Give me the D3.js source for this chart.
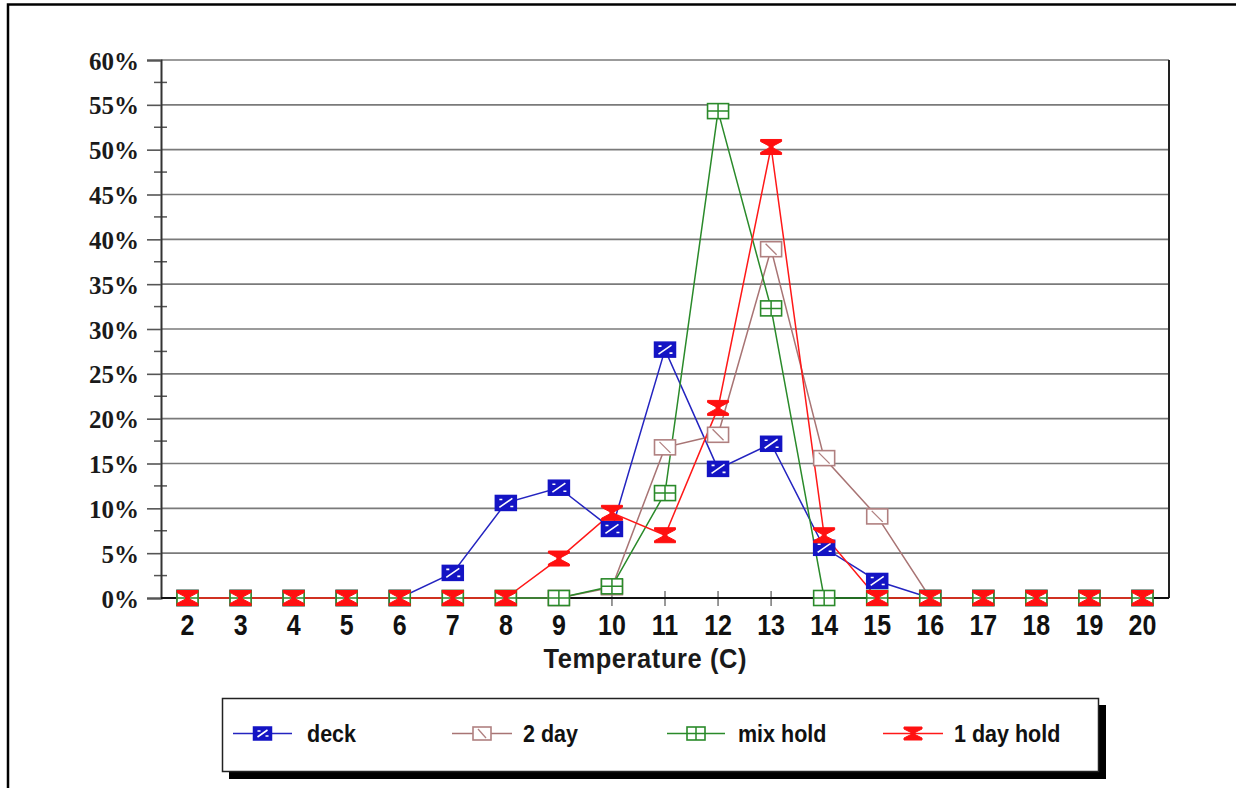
<!DOCTYPE html>
<html><head><meta charset="utf-8">
<script src="https://cdn.jsdelivr.net/npm/d3@7"></script>
<style>html,body{margin:0;padding:0;background:#fff;overflow:hidden;}svg{display:block;}</style>
</head><body>
<script>
const temps = [2,3,4,5,6,7,8,9,10,11,12,13,14,15,16,17,18,19,20];
const deck    = [0,0,0,0,0,2.8,10.6,12.3,7.7,27.7,14.4,17.2,5.6,1.9,0,0,0,0,0];
const twoDay  = [0,0,0,0,0,0,0,0,1.2,16.8,18.2,38.9,15.6,9.1,0,0,0,0,0];
const mixHold = [0,0,0,0,0,0,0,0,1.3,11.7,54.3,32.3,0,0,0,0,0,0,0];
const oneDay  = [0,0,0,0,0,0,0,4.4,9.5,7.0,21.2,50.3,7.0,0,0,0,0,0,0];
const seriesNames = ["deck","2 day","mix hold","1 day hold"];
const yTicks = [0,5,10,15,20,25,30,35,40,45,50,55,60];
const xTitle = "Temperature (C)";

const W=1236,H=788;
const svg=d3.select("body").append("svg").attr("width",W).attr("height",H);
// outer frame
svg.append("rect").attr("x",8).attr("y",4.5).attr("width",1260).attr("height",820)
  .attr("fill","none").attr("stroke","#000").attr("stroke-width",2.5);

const L=161,R=1169,T=60,B=598;
const x=d3.scalePoint().domain(temps).range([L,R]).padding(0.5);
const y=d3.scaleLinear().domain([0,60]).range([B,T]);

// gridlines
svg.append("g").selectAll("line").data(yTicks.filter(d=>d>0)).join("line")
  .attr("x1",L).attr("x2",R).attr("y1",d=>y(d)).attr("y2",d=>y(d))
  .attr("stroke","#7a7a7a").attr("stroke-width",1.6);
// minor ticks
const minor=d3.range(2.5,60,5);
svg.append("g").selectAll("line").data(minor).join("line")
  .attr("x1",L-7).attr("x2",L+6).attr("y1",d=>y(d)).attr("y2",d=>y(d))
  .attr("stroke","#555").attr("stroke-width",1.5);
// y axis via d3
const yAxis=d3.axisLeft(y).tickValues(yTicks).tickSize(14).tickFormat(d=>d+"%");
const gy=svg.append("g").attr("transform",`translate(${L},0)`).call(yAxis);
gy.select(".domain").attr("stroke","#333").attr("stroke-width",2);
gy.selectAll(".tick line").attr("stroke","#555").attr("stroke-width",1.6);
gy.selectAll(".tick text").attr("font-family","'Liberation Serif',serif").attr("font-weight","bold")
  .attr("font-size",25).attr("fill","#1a1a1a").attr("x",-22).attr("dy","0.36em");

// x ticks (crossing axis)
svg.append("g").selectAll("line").data(temps).join("line")
  .attr("x1",d=>x(d)).attr("x2",d=>x(d)).attr("y1",B-7).attr("y2",B+8)
  .attr("stroke","#777").attr("stroke-width",1.5);
// right border
svg.append("line").attr("x1",R).attr("x2",R).attr("y1",T).attr("y2",B).attr("stroke","#222").attr("stroke-width",2);
// bottom axis
svg.append("line").attr("x1",L).attr("x2",R).attr("y1",B).attr("y2",B).attr("stroke","#111").attr("stroke-width",2);

// x labels
svg.append("g").selectAll("g").data(temps).join("g")
  .attr("transform",d=>`translate(${x(d)},635) scale(1,1.15)`)
  .append("text").attr("text-anchor","middle")
  .attr("font-family","'Liberation Sans',Arial,sans-serif").attr("font-weight","bold")
  .attr("font-size",25).attr("fill","#111").text(d=>d);
svg.append("g").attr("transform","translate(645,668) scale(1,1.08)")
  .append("text").attr("text-anchor","middle")
  .attr("font-family","'Liberation Sans',Arial,sans-serif").attr("font-weight","bold")
  .attr("font-size",25.5).attr("fill","#1a1a1a").attr("textLength",203).attr("lengthAdjust","spacing")
  .text(xTitle);

// marker drawers
const colors={deck:"#1a1ac8",twoDay:"#b08080",mix:"#2a8a2a",one:"#ff1010"};
function mDeck(g,w,h){
  g.append("rect").attr("x",-w/2).attr("y",-h/2).attr("width",w).attr("height",h)
   .attr("fill","#1414c4").attr("stroke","#1414c4").attr("stroke-width",1.5);
  g.append("path").attr("d",`M${-w/2+4},${h/2-3}L${w/2-4},${-h/2+3}M${-w/2+4},${-h/2+4}L${-w/2+7},${-h/2+4}M${w/2-6},${h/2-4}L${w/2-3},${h/2-4}`)
   .attr("stroke","#fff").attr("stroke-width",1.6).attr("fill","none");
}
function mTwo(g,w,h){
  g.append("rect").attr("x",-w/2).attr("y",-h/2).attr("width",w).attr("height",h)
   .attr("fill","#fff").attr("stroke",colors.twoDay).attr("stroke-width",1.6);
  g.append("line").attr("x1",-w/2+5).attr("y1",-h/2+2).attr("x2",w/2-5).attr("y2",h/2-2)
   .attr("stroke",colors.twoDay).attr("stroke-width",1.3);
}
function mMix(g,w,h){
  g.append("rect").attr("x",-w/2).attr("y",-h/2).attr("width",w).attr("height",h)
   .attr("fill","#fff").attr("stroke",colors.mix).attr("stroke-width",1.6);
  g.append("path").attr("d",`M${-w/2},0L${w/2},0M0,${-h/2}L0,${h/2}`)
   .attr("stroke",colors.mix).attr("stroke-width",1.5);
}
function mOne(g,w,h){
  const a=w/2,b=h/2;
  g.append("path").attr("d",`M${-a},${-b}L${a},${-b}L${a},${-b+2}L2,-1L2,1L${a},${b-2}L${a},${b}L${-a},${b}L${-a},${b-2}L-2,1L-2,-1L${-a},${-b+2}Z`)
   .attr("fill",colors.one).attr("stroke",colors.one).attr("stroke-width",1);
}

const series=[
  {name:seriesNames[0],vals:deck,color:"#2424c0",marker:mDeck},
  {name:seriesNames[1],vals:twoDay,color:"#a87474",marker:mTwo},
  {name:seriesNames[2],vals:mixHold,color:"#2a8a2a",marker:mMix},
  {name:seriesNames[3],vals:oneDay,color:"#ff1818",marker:mOne}
];
const line=d3.line().x((d,i)=>x(temps[i])).y(d=>y(d));
series.forEach(s=>{
  svg.append("path").attr("d",line(s.vals)).attr("fill","none")
    .attr("stroke",s.color).attr("stroke-width",1.5);
});
series.forEach(s=>{
  s.vals.forEach((v,i)=>{
    const g=svg.append("g").attr("transform",`translate(${x(temps[i])},${y(v)})`);
    s.marker(g,21,15);
  });
});

// legend
const lg=svg.append("g");
lg.append("rect").attr("x",229).attr("y",705).attr("width",877).attr("height",74).attr("fill","#000");
lg.append("rect").attr("x",222.5).attr("y",698.5).attr("width",876).attr("height",73)
  .attr("fill","#fff").attr("stroke","#222").attr("stroke-width",1.5);
const legPos=[{lx1:233,lx2:292,tx:307},{lx1:452,lx2:512,tx:523},{lx1:667,lx2:725,tx:738},{lx1:883,lx2:943,tx:954}];
series.forEach((s,i)=>{
  const p=legPos[i], cy=733.5;
  lg.append("line").attr("x1",p.lx1).attr("x2",p.lx2).attr("y1",cy).attr("y2",cy).attr("stroke",s.color).attr("stroke-width",1.5);
  const g=lg.append("g").attr("transform",`translate(${(p.lx1+p.lx2)/2},${cy})`);
  s.marker(g,18,13);
  lg.append("g").attr("transform",`translate(${p.tx},742) scale(1,1.1)`).append("text")
    .attr("font-family","'Liberation Sans',Arial,sans-serif").attr("font-weight","bold")
    .attr("font-size",21.5).attr("fill","#111").text(s.name);
});
</script>
</body></html>
